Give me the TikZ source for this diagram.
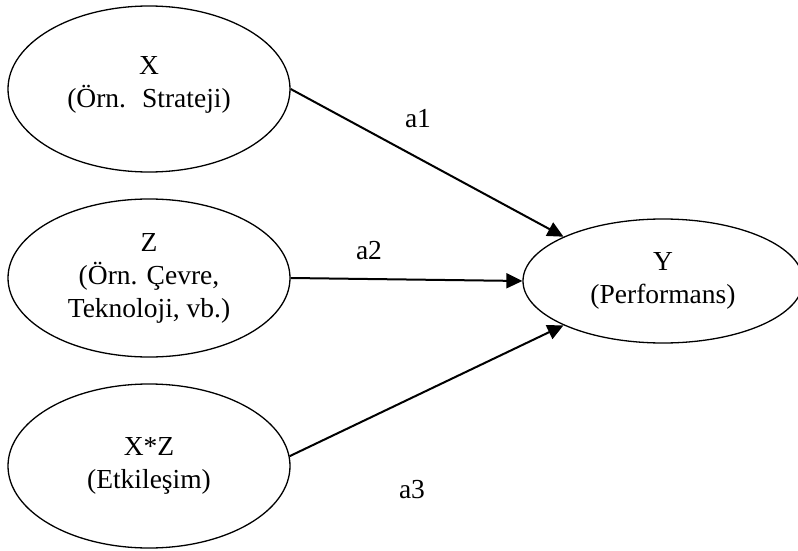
\documentclass[tikz,border=0pt]{standalone}
\usepackage{fontspec}
\setmainfont{Liberation Serif}
\usetikzlibrary{shapes.geometric,arrows.meta}
\begin{document}
\begin{tikzpicture}[x=1pt,y=-1pt,
  var/.style={draw,ellipse,line width=1.3pt,inner sep=0pt,align=center,
    font=\fontsize{27.5}{33}\selectfont},
  path/.style={line width=2pt,-{Triangle[length=16pt,width=15pt]}},
  lbl/.style={font=\fontsize{27.5}{33}\selectfont,inner sep=0pt}]
  \useasboundingbox (0,0) rectangle (798,551);
  % predictors (the strut lifts the two lines of X a little)
  \node[var,minimum width=282pt,minimum height=166pt] (X)  at (149,89)  {X\\(Örn.~ Strateji)\rule[-14pt]{0pt}{0pt}};
  \node[var,minimum width=282pt,minimum height=158pt] (Z)  at (149,278) {Z\\(Örn. Çevre,\\Teknoloji, vb.)};
  \node[var,minimum width=282pt,minimum height=164pt] (XZ) at (149,466) {X*Z\\(Etkileşim)};
  % outcome
  \node[var,minimum width=280pt,minimum height=124pt] (Y)  at (663,281) {Y\\(Performans)};
  % paths
  \draw[path] (X.east) -- (Y.156);
  \draw[path] (Z.east) -- (Y.west);
  \draw[path] (XZ.4) -- (Y.204);
  % path labels
  \node[lbl] (a1) at (418,119) {a1};
  \node[lbl] (a2) at (369,251) {a2};
  \node[lbl] (a3) at (412,490) {a3};
\end{tikzpicture}
\end{document}
